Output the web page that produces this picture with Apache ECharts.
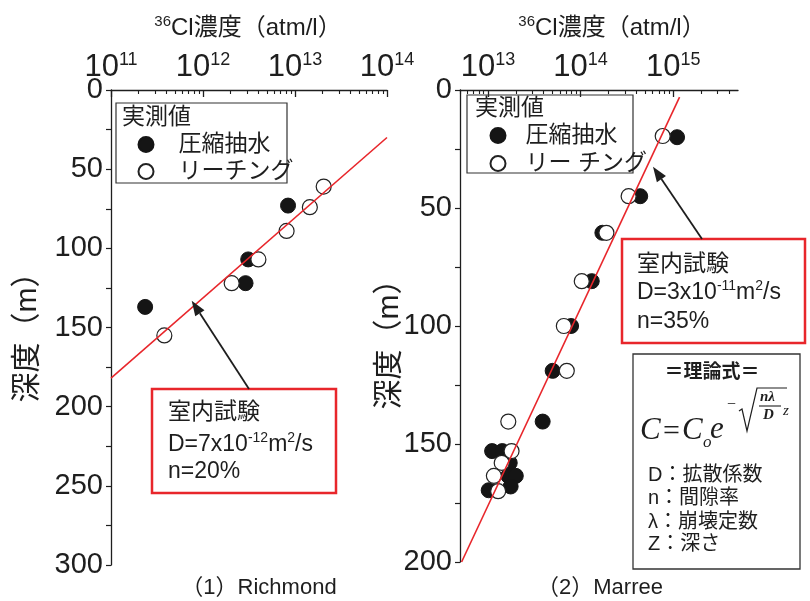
<!DOCTYPE html>
<html><head><meta charset="utf-8">
<script src="https://cdn.jsdelivr.net/npm/echarts@6/dist/echarts.min.js"></script>
<style>html,body{margin:0;padding:0;background:#fff}#c{width:810px;height:601px}</style>
</head><body><div id="c"></div>
<script>
// ---------- data ----------
// Richmond (left)
const leftFilled = [[2.35e11,137],[8.4e12,73],[3.1e12,107],[2.9e12,122]];
const leftOpen = [[3.8e11,155],[2.05e12,122],[4.0e12,107],[8.1e12,89],[1.45e13,74],[2.05e13,61]];
const leftTheory = [[1e11,182],[1e14,30]];
// Marree (right)
const rightFilled = [[1.1e15,20],[4.4e14,45],[1.72e14,60.5],[1.32e14,81],[7.9e13,100],[5.0e13,119],[3.9e13,140.5],
  [1.11e13,153],[1.43e13,153],[1.72e13,158],[1.66e13,163.5],[2.0e13,163.5],[1.76e13,168],[1.02e13,169.6]];
const rightOpen = [[7.7e14,19.5],[3.3e14,45],[1.9e14,60.5],[1.03e14,81],[6.6e13,100],[7.1e13,119],[1.66e13,140.5],
  [1.8e13,153],[1.41e13,158],[1.16e13,163.5],[1.29e13,170]];
const rightTheory = [[5.2e12,200],[1.17e15,3]];
// axis ticks
const leftMajor = [1e11,1e12,1e13,1e14];
const rightMajor = [1e13,1e14,1e15];
const minorMult = [2,3,4,5,6,7,8,9];
function minors(decades, lo, hi){
  const out=[];
  decades.forEach(d=>minorMult.forEach(m=>{const v=m*Math.pow(10,d); if(v>=lo*0.999&&v<=hi*1.001) out.push(v);}));
  return out;
}
const leftMinor = minors([11,12,13], 1e11, 1e14);
const rightMinor = minors([12,13,14,15], 5e12, 5e15);

// ---------- style ----------
const FONT = "'Liberation Sans','Noto Sans CJK JP',sans-serif";
const SERIF = "'Liberation Serif','DejaVu Serif',serif";
const INK = '#1e1e1e';
const RED = '#e8262b';

function majorAxis(grid, min, max, ticks){
  return {type:'log', logBase:10, gridIndex:grid, position:'top', min, max,
    axisLine:{show:true, onZero:false, lineStyle:{color:INK, width:1.3}},
    axisTick:{show:true, inside:true, length:7, customValues:ticks, lineStyle:{color:INK, width:1.3}},
    axisLabel:{show:true, customValues:ticks, margin:7, color:INK,
      formatter:v=>'{b|10}{s|'+Math.round(Math.log10(v))+'}',
      rich:{b:{fontSize:31, fontFamily:FONT, color:INK, lineHeight:32},
            s:{fontSize:18, fontFamily:FONT, color:INK, lineHeight:18, verticalAlign:'top'}}},
    splitLine:{show:false}, minorTick:{show:false}};
}
function minorAxis(grid, min, max, ticks){
  return {type:'log', logBase:10, gridIndex:grid, position:'top', min, max,
    axisLine:{show:false, onZero:false},
    axisTick:{show:true, inside:true, length:4, customValues:ticks, lineStyle:{color:INK, width:1.1}},
    axisLabel:{show:false}, splitLine:{show:false}};
}
function depthAxis(grid, max){
  return {type:'value', gridIndex:grid, inverse:true, min:0, max, interval:50,
    axisLine:{show:true, onZero:false, lineStyle:{color:INK, width:1.3}},
    axisTick:{show:true, inside:false, length:5, lineStyle:{color:INK, width:1.2}},
    minorTick:{show:true, splitNumber:2, length:5, lineStyle:{color:INK, width:1.2}},
    axisLabel:{fontSize:29, fontFamily:FONT, color:INK, margin:8},
    splitLine:{show:false}};
}
function filledSeries(name, xi, yi, data){
  return {type:'scatter', name, xAxisIndex:xi, yAxisIndex:yi, data, symbol:'circle', symbolSize:15,
    itemStyle:{color:'#151515', borderColor:'#151515', borderWidth:1, opacity:1}, z:2};
}
function openSeries(name, xi, yi, data){
  return {type:'scatter', name, xAxisIndex:xi, yAxisIndex:yi, data, symbol:'circle', symbolSize:15,
    itemStyle:{color:'#ffffff', borderColor:'#222', borderWidth:1.2, opacity:1}, z:3};
}
function lineSeries(xi, yi, data){
  return {type:'line', xAxisIndex:xi, yAxisIndex:yi, data, symbol:'none', showSymbol:false, silent:true,
    lineStyle:{color:RED, width:1.6}, z:4};
}
function txt(text, x, y, size, opts){
  return {type:'text', z:20, style:Object.assign({text, x, y, fontSize:size, fontFamily:FONT, fill:INK,
    align:'left', verticalAlign:'middle'}, opts||{})};
}
function vtxt(text, cx, cy, size){
  return {type:'text', z:20, x:cx, y:cy, rotation:Math.PI/2,
    style:{text, x:0, y:0, fontSize:size, fontFamily:FONT, fill:INK, align:'center', verticalAlign:'middle'}};
}
function rect(x,y,w,h,stroke,lw,fill,z){
  return {type:'rect', z:z||10, shape:{x,y,width:w,height:h}, style:{stroke, lineWidth:lw, fill:fill||'rgba(0,0,0,0)'}};
}
function arrow(x1,y1,x2,y2){
  const dx=x2-x1, dy=y2-y1, L=Math.hypot(dx,dy), ux=dx/L, uy=dy/L, hl=15, hw=5.5;
  const bx=x2-ux*hl, by=y2-uy*hl;
  return [{type:'line', z:15, shape:{x1,y1,x2:bx,y2:by}, style:{stroke:INK, lineWidth:1.8}},
    {type:'polygon', z:15, shape:{points:[[x2,y2],[bx-uy*hw,by+ux*hw],[bx+uy*hw,by-ux*hw]]}, style:{fill:INK}}];
}
const supRich = {a:{fontSize:23, fontFamily:FONT, color:INK, lineHeight:28},
                 s:{fontSize:14, fontFamily:FONT, color:INK, lineHeight:14, verticalAlign:'top'}};
const titleRich = {a:{fontSize:24, fontFamily:FONT, color:INK, lineHeight:28},
                 s:{fontSize:15, fontFamily:FONT, color:INK, lineHeight:15, verticalAlign:'top'}};

const graphics = [
  // titles
  txt('{s|36}{a|Cl濃度（atm/l）}', 248, 28, 24, {align:'center', rich:titleRich}),
  txt('{s|36}{a|Cl濃度（atm/l）}', 612, 28, 24, {align:'center', rich:titleRich}),
  // y names
  vtxt('深度（m）', 28, 330, 30),
  vtxt('深度（m）', 390, 337, 30),
  // captions
  txt('（1）Richmond', 259, 588, 22, {align:'center'}),
  txt('（2）Marree', 600, 588, 22, {align:'center'}),
  // legend boxes
  rect(116,103,171,80,'#333',1.2,null,1),
  txt('実測値', 122, 118, 23),
  rect(467,95,166,78,'#333',1.2,null,1),
  txt('実測値', 475, 109, 23),
  // annotation boxes
  rect(152,389,184,104,RED,2.5,'#fff',10),
  txt('室内試験', 168, 413, 23),
  txt('{a|D=7x10}{s|-12}{a|m}{s|2}{a|/s}', 168, 445, 23, {rich:supRich}),
  txt('n=20%', 168, 472, 23),
  rect(622,239,183,104,RED,2.5,'#fff',10),
  txt('室内試験', 637, 265, 23),
  txt('{a|D=3x10}{s|-11}{a|m}{s|2}{a|/s}', 637, 293, 23, {rich:supRich}),
  txt('n=35%', 637, 322, 23),
  ...arrow(249,389,191.7,300.7),
  ...arrow(702,239,653,166.7),
  // theory box
  rect(633,354,167,215,'#333',1.3,'#fff',10),
  txt('＝理論式＝', 712, 373, 19, {align:'center', fontWeight:'bold'}),
  txt('C', 640, 431, 31, {fontFamily:SERIF, fontStyle:'italic'}),
  txt('=', 663, 432, 30, {fontFamily:SERIF}),
  txt('C', 682, 431, 31, {fontFamily:SERIF, fontStyle:'italic'}),
  txt('o', 703, 443, 17, {fontFamily:SERIF, fontStyle:'italic'}),
  txt('e', 710, 430, 31, {fontFamily:SERIF, fontStyle:'italic'}),
  txt('−', 727, 405, 16, {fontFamily:SERIF}),
  {type:'polyline', z:20, shape:{points:[[739,411],[742,409],[747,431],[757,388],[787,388]]}, style:{stroke:INK, lineWidth:1.2, fill:null}},
  txt('nλ', 760, 397, 15, {fontFamily:SERIF, fontStyle:'italic', fontWeight:'bold'}),
  {type:'line', z:20, shape:{x1:759,y1:406,x2:781,y2:406}, style:{stroke:INK, lineWidth:1.1}},
  txt('D', 763, 415, 15, {fontFamily:SERIF, fontStyle:'italic', fontWeight:'bold'}),
  txt('z', 783, 411, 15, {fontFamily:SERIF, fontStyle:'italic'}),
  txt('D：拡散係数', 648, 475, 20),
  txt('n：間隙率', 648, 498, 20),
  txt('λ：崩壊定数', 648, 522, 20),
  txt('Z：深さ', 648, 544, 20)
];

const option = {
  animation:false,
  backgroundColor:'#fff',
  grid:[{left:111, top:90, width:276, height:475, containLabel:false},
        {left:460, top:90, width:278, height:472, containLabel:false}],
  xAxis:[majorAxis(0,1e11,1e14,leftMajor), minorAxis(0,1e11,1e14,leftMinor),
         majorAxis(1,5e12,5e15,rightMajor), minorAxis(1,5e12,5e15,rightMinor)],
  yAxis:[depthAxis(0,300), depthAxis(1,200)],
  legend:[
    {data:['圧縮抽水','リーチング'], orient:'vertical', left:137.5, top:133, padding:0, itemGap:4,
     itemWidth:15, itemHeight:15, icon:'circle', selectedMode:false,
     textStyle:{fontSize:23, fontFamily:FONT, color:INK, padding:[0,0,0,20]}},
    {data:['圧縮抽水','リー チング'], orient:'vertical', left:489.5, top:124, padding:0, itemGap:5,
     itemWidth:15, itemHeight:15, icon:'circle', selectedMode:false,
     textStyle:{fontSize:23, fontFamily:FONT, color:INK, padding:[0,0,0,15]}}
  ],
  series:[
    filledSeries('圧縮抽水',0,0,leftFilled),
    openSeries('リーチング',0,0,leftOpen),
    lineSeries(0,0,leftTheory),
    filledSeries('圧縮抽水',2,1,rightFilled),
    openSeries('リー チング',2,1,rightOpen),
    lineSeries(2,1,rightTheory)
  ],
  graphic:graphics
};
const chart = echarts.init(document.getElementById('c'), null, {renderer:'canvas'});
chart.setOption(option);
</script></body></html>
